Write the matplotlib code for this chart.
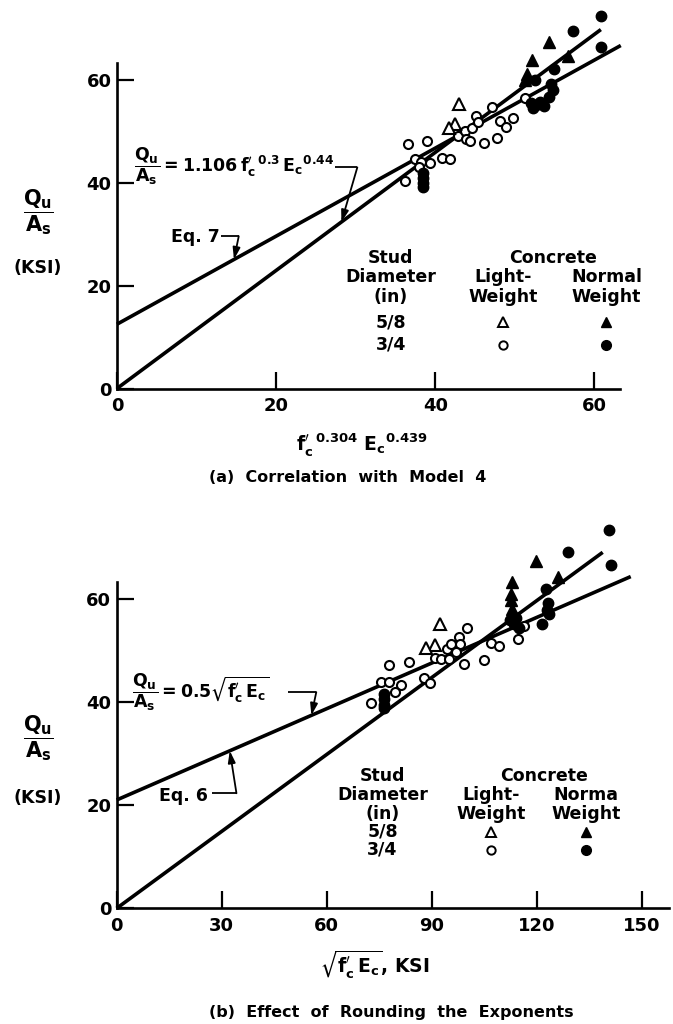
import numpy as np
import matplotlib
matplotlib.use("Agg")
import matplotlib.pyplot as plt

plt.rcParams['font.family'] = 'DejaVu Sans'
plt.rcParams['font.weight'] = 'bold'
plt.rcParams['mathtext.fontset'] = 'dejavusans'
plt.rcParams['mathtext.default'] = 'bf'

# ---- (a) Correlation with Model 4 ----
a_lw58_x = [43.0, 42.5, 41.7]
a_lw58_y = [55.4, 51.4, 50.6]
a_nw58_x = [54.3, 52.2, 56.7, 51.5, 51.3]
a_nw58_y = [67.4, 63.8, 64.6, 61.2, 60.0]
a_lw34_x = [36.6, 39.0, 37.4, 38.2, 39.3, 40.8, 41.8, 36.2, 38.0, 42.9, 43.7, 43.9,
            44.4, 44.6, 45.1, 45.4, 46.1, 47.7, 47.1, 48.1, 48.9, 49.7, 51.3]
a_lw34_y = [47.5, 48.2, 44.7, 44.1, 43.8, 44.9, 44.6, 40.4, 43.0, 49.1, 50.1, 48.5,
            48.2, 50.7, 52.9, 51.9, 47.8, 48.8, 54.7, 52.1, 50.9, 52.6, 56.5]
a_nw34_x = [60.8, 57.3, 60.8, 54.9, 54.5, 54.8, 54.3, 52.5, 52.0, 52.6, 53.2, 53.6,
            52.3, 38.5, 38.5, 38.5, 38.5]
a_nw34_y = [72.4, 69.5, 66.5, 62.1, 59.3, 58.0, 56.7, 59.9, 55.6, 55.2, 55.8, 55.0,
            54.6, 42.0, 41.0, 40.0, 39.2]
a_fit_x = [0, 60.8]        # 1.106 f'c^0.3 Ec^0.44
a_fit_y = [0, 69.8]
a_eq_x = [0, 63.3]         # Eq. 7
a_eq_y = [12.5, 66.7]

# ---- (b) Effect of Rounding the Exponents ----
b_lw58_x = [92.4, 91.0, 88.4]
b_lw58_y = [55.1, 51.1, 50.5]
b_nw58_x = [119.8, 125.9, 112.9, 112.6, 112.6, 112.8]
b_nw58_y = [67.4, 64.3, 63.2, 61.0, 59.7, 58.0]
b_lw34_x = [77.7, 83.6, 75.6, 77.9, 81.3, 79.4, 72.7, 87.9, 89.6, 90.8, 92.5, 95.0,
            94.3, 95.6, 97.7, 98.1, 97.0, 100.0, 99.3, 105.0, 106.9, 109.1, 114.5, 116.4]
b_lw34_y = [47.1, 47.8, 43.8, 43.8, 43.3, 41.9, 39.8, 44.6, 43.7, 48.5, 48.4, 48.4,
            50.3, 51.3, 52.5, 51.3, 49.7, 54.3, 47.3, 48.2, 51.4, 50.8, 52.2, 54.8]
b_nw34_x = [140.7, 129.0, 141.3, 122.6, 123.1, 122.8, 123.5, 121.5, 112.2, 113.5, 115.0,
            114.0, 76.2, 76.2, 76.2, 76.2]
b_nw34_y = [73.3, 69.1, 66.5, 61.8, 59.1, 57.8, 57.1, 55.1, 55.8, 55.2, 54.4,
            56.3, 41.6, 40.5, 39.4, 38.9]
b_fit_x = [0, 138.8]
b_fit_y = [0, 69.0]
b_eq_x = [0, 146.8]        # Eq. 6
b_eq_y = [21.0, 64.3]

a_xticks = [0, 20, 40, 60]
b_xticks = [0, 30, 60, 90, 120, 150]
yticks = [0, 20, 40, 60]


def leader(ax, start, corner, tip):
    ax.plot([start[0], corner[0]], [start[1], corner[1]], color='k', lw=1.3,
            solid_capstyle='butt', clip_on=False)
    ax.annotate('', xy=tip, xytext=corner,
                arrowprops=dict(arrowstyle='-|>,head_length=0.7,head_width=0.22',
                                color='k', lw=1.3, shrinkA=0, shrinkB=0))


def panel(ax, d, xlim, xticks):
    ax.plot(d['fit'][0], d['fit'][1], color='k', lw=2.6, solid_capstyle='butt',
            zorder=2, clip_on=False)
    ax.plot(d['eq'][0], d['eq'][1], color='k', lw=2.6, solid_capstyle='butt',
            zorder=2, clip_on=False)
    ax.plot(d['lw34'][0], d['lw34'][1], 'o', ms=6.5, mfc='white', mec='k', mew=1.5,
            zorder=3, clip_on=False)
    ax.plot(d['nw34'][0], d['nw34'][1], 'o', ms=7.5, mfc='k', mec='k', zorder=3,
            clip_on=False)
    ax.plot(d['lw58'][0], d['lw58'][1], '^', ms=8, mfc='white', mec='k', mew=1.5,
            zorder=3, clip_on=False)
    ax.plot(d['nw58'][0], d['nw58'][1], '^', ms=8.5, mfc='k', mec='k', zorder=3,
            clip_on=False)

    ax.set_xlim(*xlim)
    ax.set_ylim(0, 63.3)
    ax.set_xticks(xticks)
    ax.set_yticks(yticks)
    for s in ['top', 'right']:
        ax.spines[s].set_visible(False)
    for s in ['left', 'bottom']:
        ax.spines[s].set_linewidth(1.9)
    ax.tick_params(axis='both', direction='in', length=12, width=1.6,
                   labelsize=13)
    ax.tick_params(axis='x', pad=6)
    ax.tick_params(axis='y', pad=4)


def key(ax, rows, xs, ys):
    for x, y, s in rows:
        ax.text(x, y, s, fontsize=12.5, ha='center', va='center')
    ax.plot([xs[0]], [ys[0]], '^', ms=7, mfc='white', mec='k', mew=1.4, clip_on=False)
    ax.plot([xs[1]], [ys[0]], '^', ms=7.5, mfc='k', mec='k', clip_on=False)
    ax.plot([xs[0]], [ys[1]], 'o', ms=6, mfc='white', mec='k', mew=1.4, clip_on=False)
    ax.plot([xs[1]], [ys[1]], 'o', ms=7, mfc='k', mec='k', clip_on=False)


fig = plt.figure(figsize=(6.73, 10.24), dpi=100)

# (a)
ax1 = fig.add_axes([0.1738, 0.6206, 0.7474, 0.3179])
panel(ax1, {'fit': (a_fit_x, a_fit_y), 'eq': (a_eq_x, a_eq_y),
            'lw34': (a_lw34_x, a_lw34_y), 'nw34': (a_nw34_x, a_nw34_y),
            'lw58': (a_lw58_x, a_lw58_y), 'nw58': (a_nw58_x, a_nw58_y)},
      (0, 63.2), a_xticks)
ax1.text(2.1, 43.3, r"$\dfrac{Q_u}{A_s} = 1.106\,f^{\prime}_{c}{}^{\,0.3}\,E_c{}^{0.44}$",
         fontsize=12.5, ha='left', va='center')
tip = 28.2
leader(ax1, (27.4, 43.0), (30.2, 43.0), (tip, np.interp(tip, a_fit_x, a_fit_y)))
ax1.text(12.9, 29.4, "Eq. 7", fontsize=12.5, ha='right', va='center')
tip = 14.7
leader(ax1, (13.1, 29.6), (15.3, 29.6), (tip, np.interp(tip, a_eq_x, a_eq_y)))

key(ax1, [(34.4, 25.4, "Stud"), (34.4, 21.6, "Diameter"), (34.4, 17.7, "(in)"),
          (34.4, 12.9, "5/8"), (34.4, 8.5, "3/4"), (54.8, 25.4, "Concrete"),
          (48.5, 21.6, "Light-"), (48.5, 17.7, "Weight"), (61.5, 21.6, "Normal"),
          (61.5, 17.7, "Weight")], (48.5, 61.5), (12.9, 8.5))

fig.text(38 / 673, 1 - 212 / 1024, r"$\dfrac{Q_u}{A_s}$", fontsize=15,
         ha='center', va='center')
fig.text(38 / 673, 1 - 268 / 1024, "(KSI)", fontsize=12.5, ha='center', va='center')
fig.text(362 / 673, 1 - 445 / 1024, r"$f^{\prime}_{c}{}^{\,0.304}\ E_c{}^{0.439}$",
         fontsize=13.5, ha='center', va='center')
fig.text(348 / 673, 1 - 477 / 1024, "(a)  Correlation  with  Model  4", fontsize=11.5,
         ha='center', va='center')

# (b)
ax2 = fig.add_axes([0.1734, 0.1130, 0.8210, 0.3189])
panel(ax2, {'fit': (b_fit_x, b_fit_y), 'eq': (b_eq_x, b_eq_y),
            'lw34': (b_lw34_x, b_lw34_y), 'nw34': (b_nw34_x, b_nw34_y),
            'lw58': (b_lw58_x, b_lw58_y), 'nw58': (b_nw58_x, b_nw58_y)},
      (0, 157.8), b_xticks)
ax2.text(4.5, 41.9, r"$\dfrac{Q_u}{A_s} = 0.5\sqrt{f^{\prime}_{c}\,E_c}$",
         fontsize=12.5, ha='left', va='center')
tip = 55.6
leader(ax2, (49.0, 41.9), (57.0, 41.9), (tip, np.interp(tip, b_eq_x, b_eq_y)))
ax2.text(26.1, 21.7, "Eq. 6", fontsize=12.5, ha='right', va='center')
tip = 32.3
leader(ax2, (27.1, 22.3), (34.2, 22.3), (tip, np.interp(tip, b_eq_x, b_eq_y)))

key(ax2, [(75.9, 25.6, "Stud"), (75.9, 21.9, "Diameter"), (75.9, 18.2, "(in)"),
          (75.9, 14.8, "5/8"), (75.9, 11.3, "3/4"), (122.1, 25.6, "Concrete"),
          (106.9, 21.9, "Light-"), (106.9, 18.2, "Weight"), (134.0, 21.9, "Norma"),
          (134.0, 18.2, "Weight")], (106.9, 134.0), (14.8, 11.3))

fig.text(38 / 673, 1 - 738 / 1024, r"$\dfrac{Q_u}{A_s}$", fontsize=15,
         ha='center', va='center')
fig.text(38 / 673, 1 - 798 / 1024, "(KSI)", fontsize=12.5, ha='center', va='center')
fig.text(375 / 673, 1 - 965 / 1024, r"$\sqrt{f^{\prime}_{c}\,E_c}$, KSI",
         fontsize=13.5, ha='center', va='center')
fig.text(391 / 673, 1 - 1013 / 1024, "(b)  Effect  of  Rounding  the  Exponents",
         fontsize=11.5, ha='center', va='center')

fig.savefig("out.png", dpi=100)
